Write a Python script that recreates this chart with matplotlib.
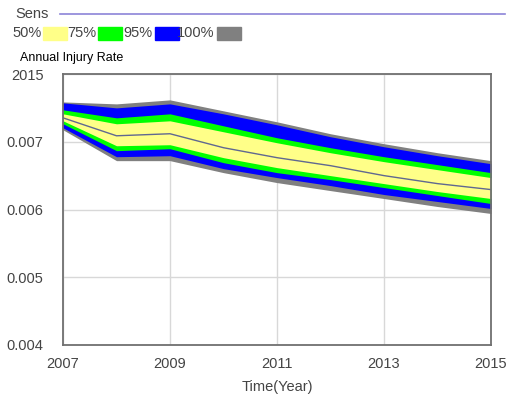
import matplotlib
matplotlib.use("Agg")
import matplotlib.pyplot as plt
from matplotlib.patches import Rectangle
from matplotlib.lines import Line2D

years = [2007, 2008, 2009, 2010, 2011, 2012, 2013, 2014, 2015]
p100_hi = [0.007588, 0.007559, 0.007618, 0.007456, 0.007294, 0.007118, 0.006971, 0.006838, 0.006721]
p95_hi  = [0.007574, 0.007500, 0.007559, 0.007412, 0.007250, 0.007074, 0.006926, 0.006794, 0.006676]
p75_hi  = [0.007471, 0.007353, 0.007412, 0.007235, 0.007059, 0.006912, 0.006779, 0.006662, 0.006544]
p50_hi  = [0.007412, 0.007265, 0.007309, 0.007147, 0.006985, 0.006838, 0.006706, 0.006588, 0.006471]
center  = [0.007353, 0.007088, 0.007118, 0.006912, 0.006765, 0.006647, 0.006500, 0.006382, 0.006294]
p50_lo  = [0.007309, 0.006941, 0.006956, 0.006765, 0.006618, 0.006500, 0.006382, 0.006265, 0.006162]
p75_lo  = [0.007265, 0.006868, 0.006897, 0.006691, 0.006544, 0.006441, 0.006324, 0.006206, 0.006088]
p95_lo  = [0.007206, 0.006779, 0.006794, 0.006603, 0.006471, 0.006353, 0.006221, 0.006118, 0.006015]
p100_lo = [0.007176, 0.006721, 0.006721, 0.006544, 0.006397, 0.006279, 0.006162, 0.006044, 0.005941]

ytick_vals = [0.004, 0.005, 0.006, 0.007, 0.008]
ytick_labels = ["0.004", "0.005", "0.006", "0.007", "2015"]
xtick_vals = [2007, 2009, 2011, 2013, 2015]
legend_labels = ["50%", "75%", "95%", "100%"]
colors = ["#ffff88", "#00ff00", "#0000ff", "#808080"]

plt.rcParams['font.family'] = ['Liberation Sans', 'DejaVu Sans']
FS = 10.5

fig = plt.figure(figsize=(5.12, 3.98), dpi=100)
ax = fig.add_axes([63/512, 1-345/398, (491-63)/512, (345-74)/398])

ax.fill_between(years, p100_lo, p100_hi, color=colors[3], lw=0)
ax.fill_between(years, p95_lo, p95_hi, color=colors[2], lw=0)
ax.fill_between(years, p75_lo, p75_hi, color=colors[1], lw=0)
ax.fill_between(years, p50_lo, p50_hi, color=colors[0], lw=0)
ax.plot(years, center, color="#606890", lw=1.0)

ax.set_xlim(2007, 2015)
ax.set_ylim(0.004, 0.008)
ax.set_xticks(xtick_vals)
ax.set_xticklabels([str(v) for v in xtick_vals])
ax.set_yticks(ytick_vals)
ax.set_yticklabels(ytick_labels)
ax.tick_params(length=0, labelsize=FS, colors="#444444")
ax.tick_params(axis="y", pad=14)
ax.tick_params(axis="x", pad=9)
ax.grid(True, color="#d8d8d8", lw=1.0)
ax.set_axisbelow(True)
for s in ax.spines.values():
    s.set_color("#707070")
    s.set_linewidth(1.3)
ax.set_xlabel("Time(Year)", fontsize=FS, color="#444444", labelpad=6)

# header legend
fig.text(15/512, 1-14/398, "Sens", fontsize=FS, color="#444444", va="center")
fig.add_artist(Line2D([60/512, 505/512], [1-14/398, 1-14/398], color="#8c84d8", lw=1.2))
lx = [12, 67, 123, 177]
bx = [43, 98, 155, 217]
for lab, c, x0, b0 in zip(legend_labels, colors, lx, bx):
    fig.text(x0/512, 1-33/398, lab, fontsize=FS, color="#444444", va="center")
    fig.add_artist(Rectangle((b0/512, 1-40/398), 24/512, 13/398, color=c,
                             transform=fig.transFigure))
fig.text(20/512, 1-58/398, "Annual Injury Rate", fontsize=9, color="black", va="center")

fig.savefig("out.png", dpi=100)
